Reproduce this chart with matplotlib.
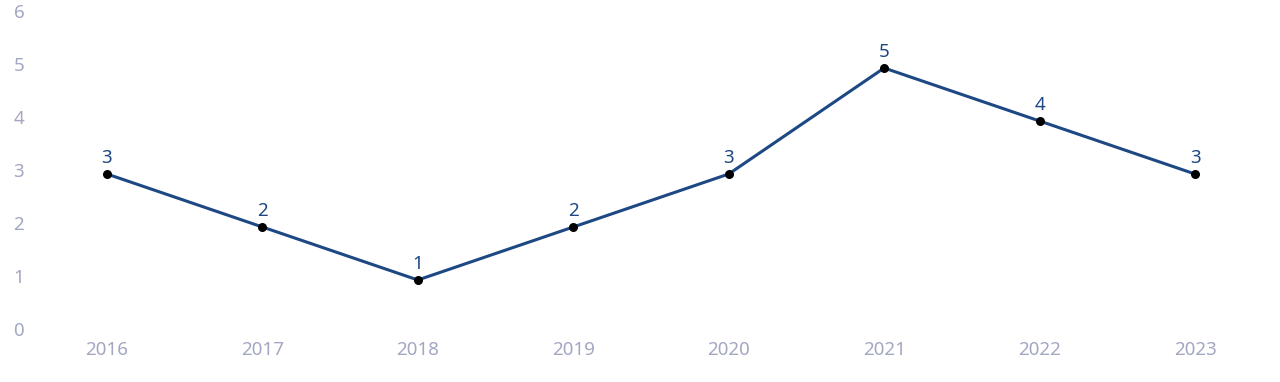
import matplotlib.pyplot as plt
from matplotlib.transforms import ScaledTranslation

years = [2016, 2017, 2018, 2019, 2020, 2021, 2022, 2023]
counts = [3, 2, 1, 2, 3, 5, 4, 3]
y_ticks = [0, 1, 2, 3, 4, 5, 6]

plt.rcParams['font.family'] = ['Noto Sans', 'DejaVu Sans']

fig = plt.figure(figsize=(12.8, 3.82), dpi=100)
ax = fig.add_axes([40 / 1280, 49 / 382, 1222 / 1280, 318 / 382])

ax.plot(years, counts, color='#1d4884', linewidth=2.2, zorder=2)
ax.scatter(years, counts, color='black', s=30, zorder=3)

for x, y in zip(years, counts):
    ax.annotate(str(y), (x, y), xytext=(0, 5), textcoords='offset points',
                ha='center', va='bottom', fontsize=13.5, color='#1d4884')

ax.set_xlim(years[0] - 0.431, years[-1] + 0.431)
ax.set_ylim(0, 6)
ax.set_xticks(years)
ax.set_yticks(y_ticks)
ax.tick_params(axis='both', length=0, labelsize=13.5, labelcolor='#a3a7c2')
ax.tick_params(axis='x', pad=6)
ax.yaxis.set_tick_params(pad=19)
shift = ScaledTranslation(0, 4 / 100, fig.dpi_scale_trans)
for lbl in ax.get_yticklabels():
    lbl.set_horizontalalignment('left')
    lbl.set_transform(lbl.get_transform() + shift)

for s in ax.spines.values():
    s.set_visible(False)

fig.savefig('out.png', dpi=100)
